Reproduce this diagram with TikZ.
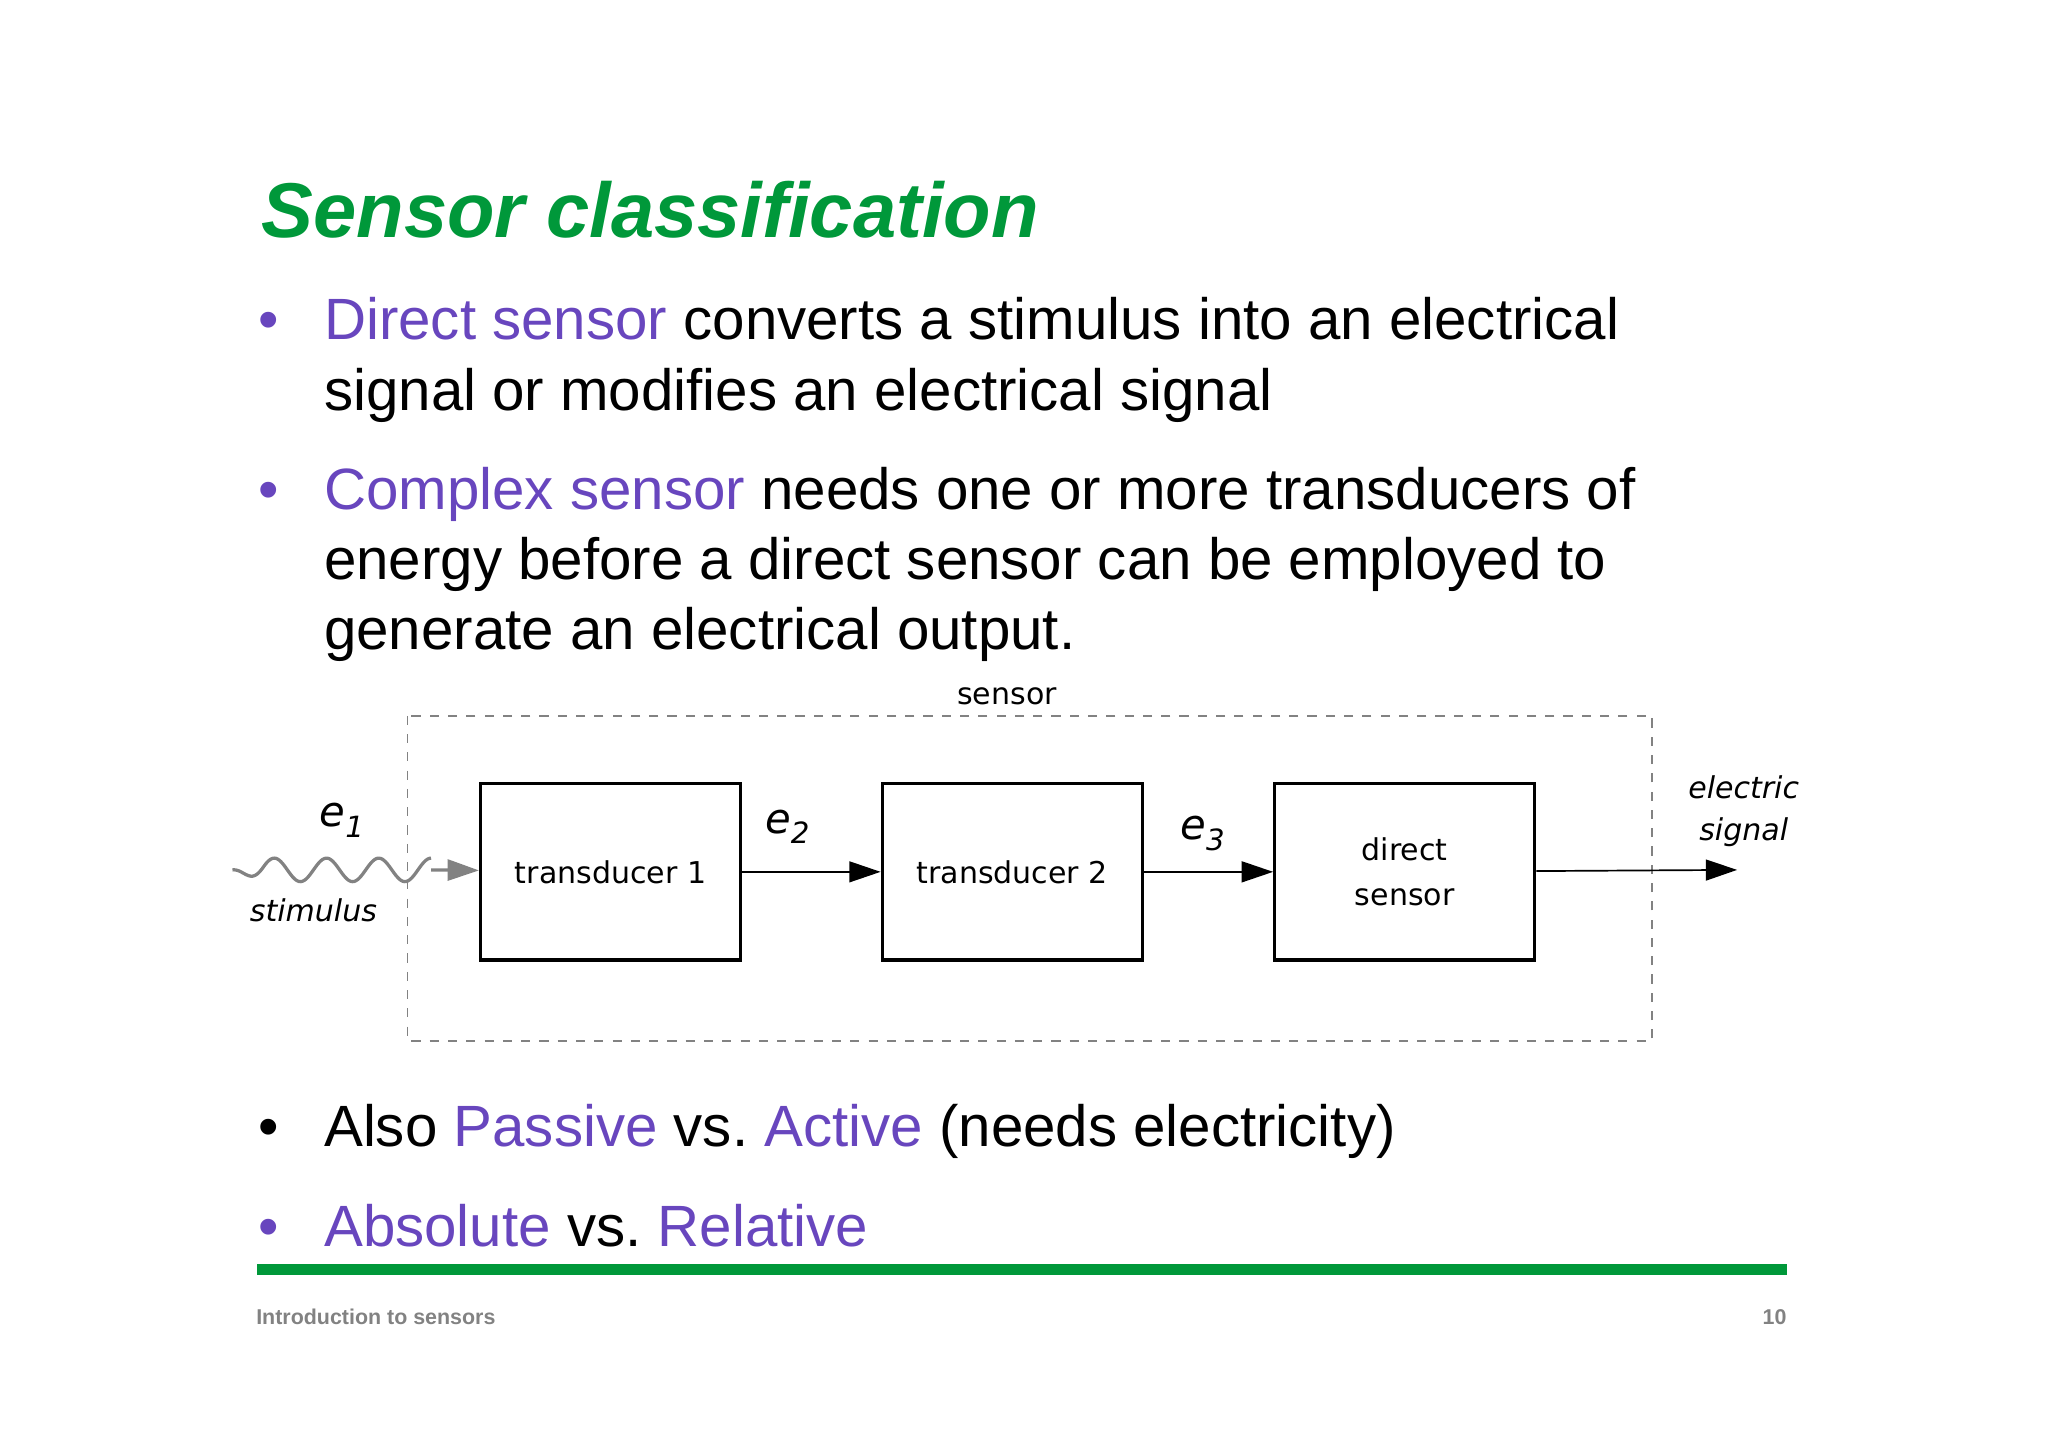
\documentclass[tikz,border=0pt]{standalone}
\usepackage{fontspec}
\setmainfont{Liberation Sans}
\newfontfamily\diag{DejaVu Sans}
\usetikzlibrary{arrows.meta}
\definecolor{tgreen}{RGB}{0,152,58}
\definecolor{tpurple}{RGB}{104,70,190}
\definecolor{tgray}{RGB}{130,130,130}
\frenchspacing
\begin{document}
\begin{tikzpicture}[x=1pt,y=-1pt,
  body/.style={anchor=base west,inner sep=0pt,font=\fontsize{44.6}{50}\selectfont},
  bul/.style={anchor=base,inner sep=0pt,font=\fontsize{44.6}{50}\selectfont},
  blk/.style={draw,line width=2.6pt,minimum width=199pt,minimum height=135pt,font=\diag\fontsize{23}{30}\selectfont,align=center},
  lab/.style={font=\diag\fontsize{23}{28}\selectfont,inner sep=0pt},
  arr/.style={line width=1.3pt,-{Triangle[length=24pt,width=16pt]}}]
\useasboundingbox (0,0) rectangle (1568,1108);
\node[anchor=base west,inner sep=0pt,text=tgreen,font=\fontsize{59.5}{70}\selectfont\bfseries\itshape] (title) at (200,182) {Sensor classification};
\node[bul,text=tpurple] (b1) at (206,260) {\textbullet};
\node[body] (t1a) at (248,260) {\textcolor{tpurple}{Direct sensor} converts a stimulus into an electrical};
\node[body] (t1b) at (248,314) {signal or modifies an electrical signal};
\node[bul,text=tpurple] (b2) at (206,390) {\textbullet};
\node[body] (t2a) at (248,390) {\textcolor{tpurple}{Complex sensor} needs one or more transducers of};
\node[body] (t2b) at (248,444) {energy before a direct sensor can be employed to};
\node[body] (t2c) at (248,497) {generate an electrical output.};
\node[bul] (b3) at (206,878) {\textbullet};
\node[body] (t3) at (248,878) {Also \textcolor{tpurple}{Passive} vs. \textcolor{tpurple}{Active} (needs electricity)};
\node[bul,text=tpurple] (b4) at (206,954) {\textbullet};
\node[body] (t4) at (248,954) {\textcolor{tpurple}{Absolute} vs. \textcolor{tpurple}{Relative}};
% diagram
\draw[tgray,line width=1.3pt,dash pattern=on 7pt off 7pt] (312,548) rectangle (1265,797);
\node[lab,fill=white,inner sep=3pt] (sens) at (771,533) {sensor};
\node[blk] (tr1) at (467.5,667.5) {transducer 1};
\node[blk] (tr2) at (775,667.5) {transducer 2};
\node[blk] (ds) at (1075.5,667.5) {direct\\[4pt]sensor};
\coordinate (wend) at (330,666);
\coordinate (out) at (1330,666);
\begin{scope}[shift={(178,666)}]
\draw[tgray,line width=2.5pt] plot[domain=0:152,samples=120,smooth] (\x,{-9*sin(9*\x-198)*min(1,\x/25)});
\end{scope}
\draw[arr,tgray,line width=2.5pt] (wend) -- (tr1);
\draw[arr] (tr1) -- (tr2);
\draw[arr] (tr2) -- (ds);
\draw[arr] (ds) -- (out);
\node[lab,font=\diag\itshape\fontsize{32}{34}\selectfont] (e1) at (262,628) {e\textsubscript{1}};
\node[lab,font=\diag\itshape\fontsize{32}{34}\selectfont] (e2) at (603,633) {e\textsubscript{2}};
\node[lab,font=\diag\itshape\fontsize{32}{34}\selectfont] (e3) at (921,638) {e\textsubscript{3}};
\node[lab,font=\diag\itshape\fontsize{23}{28}\selectfont] (stim) at (240,697) {stimulus};
\node[lab,font=\diag\itshape\fontsize{23}{28}\selectfont] (el) at (1335,603) {electric};
\node[lab,font=\diag\itshape\fontsize{23}{28}\selectfont] (sig) at (1335,637) {signal};
% footer
\draw[tgreen,line width=8pt] (197,972) -- (1368,972);
\node[anchor=base west,inner sep=0pt,text=tgray,font=\fontsize{16.4}{18}\selectfont\bfseries] (foot) at (196,1014) {Introduction to sensors};
\node[anchor=base east,inner sep=0pt,text=tgray,font=\fontsize{16.4}{18}\selectfont\bfseries] (pg) at (1368,1014) {10};
\end{tikzpicture}
\end{document}
